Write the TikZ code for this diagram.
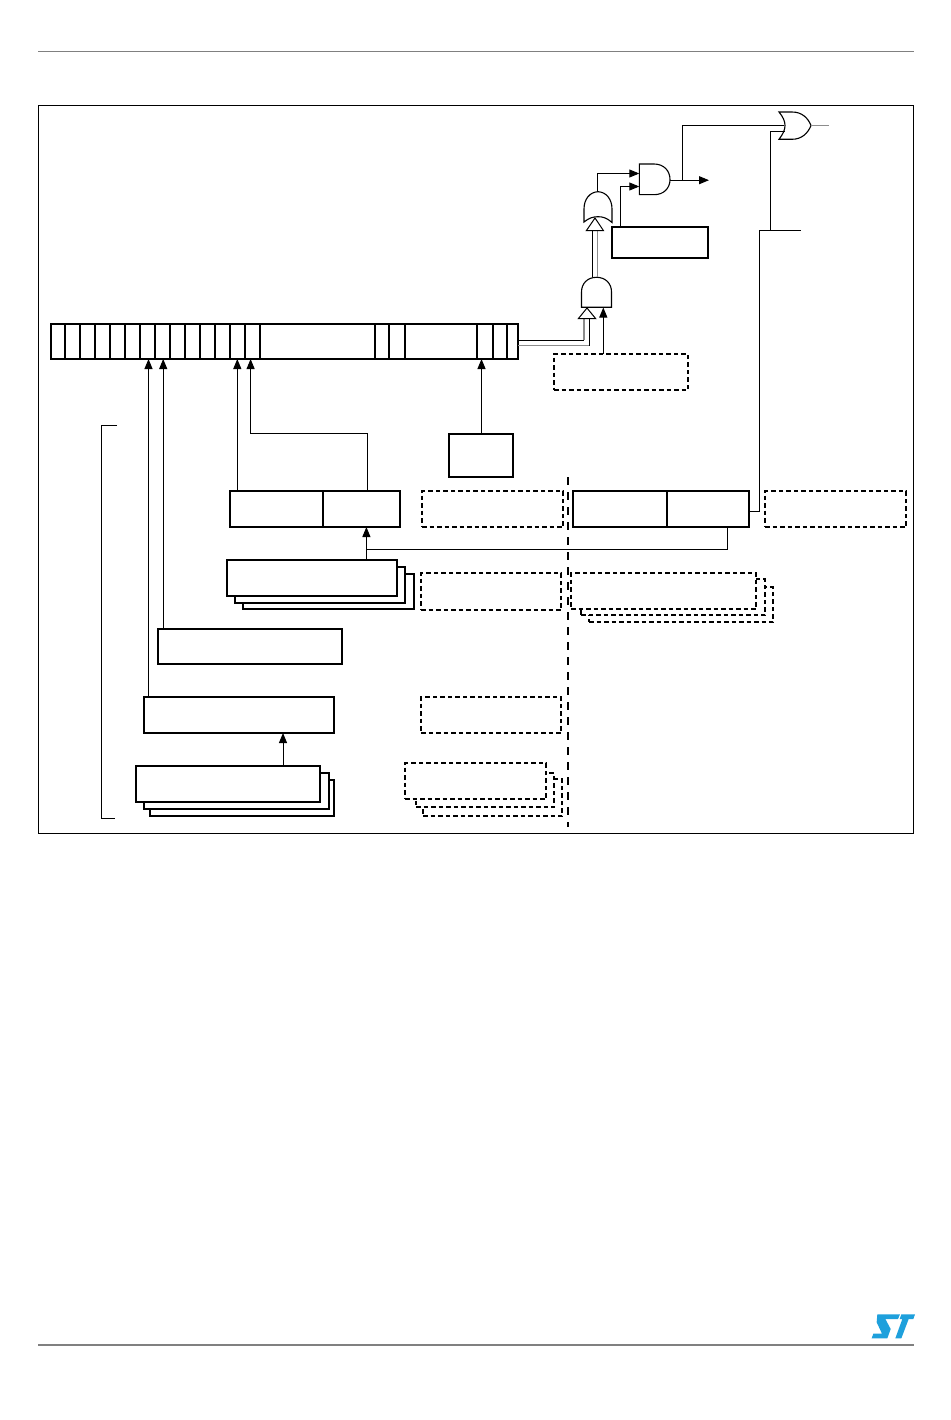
\documentclass[tikz,border=0pt]{standalone}
\usetikzlibrary{arrows.meta}
\definecolor{rulegray}{gray}{0.5}
\definecolor{stblue}{RGB}{30,160,220}
\definecolor{wiregray}{gray}{0.55}
\tikzset{
  x=1pt,y=-1pt,
  solidbox/.style={draw=black,line width=1.6pt,fill=white,rectangle,inner sep=0pt,outer sep=0pt},
  dashbox/.style={draw=black,line width=1.5pt,fill=white,rectangle,inner sep=0pt,outer sep=0pt,dash pattern=on 4.5pt off 3pt},
  wire/.style={draw=black,line width=1pt},
  graywire/.style={draw=wiregray,line width=1.2pt},
  arrw/.style={wire,-{Triangle[length=10pt,width=8pt]}},
  gate/.style={draw=black,line width=1.1pt,fill=white},
  hollow/.style={draw=black,line width=1pt,fill=white,line join=miter},
}
\newcommand{\bx}[6]{%
  \pgfmathsetmacro\bxw{#5-#3}\pgfmathsetmacro\bxh{#6-#4}%
  \node[#1,minimum width=\bxw pt,minimum height=\bxh pt] (#2) at ({(#3+#5)/2},{(#4+#6)/2}) {};}
\begin{document}
\begin{tikzpicture}
\useasboundingbox (0,0) rectangle (950,1420);
\fill[white] (0,0) rectangle (950,1420);
% page rules
\draw[rulegray,line width=1pt] (38,52) -- (914,52);
\draw[rulegray,line width=1.3pt] (38,1345) -- (914,1345);
% frame
\bx{draw=black,line width=0.7pt,rectangle,inner sep=0pt,outer sep=0pt}{frame}{38.5}{105.5}{913.5}{833.5}
% register
\bx{solidbox}{reg}{51}{324}{518}{359}
\foreach \cx in {65,80,95,110,125,140,155,170,185,200,215,230,245,260,375,389,405,477,493,507}{
  \coordinate (cell) at (\cx,0);
  \draw[line width=1.6pt] (reg.north -| cell) -- (reg.south -| cell);
}
% centre dashed line
\coordinate (midtop) at (568,477);
\coordinate (midbot) at (568,827);
\draw[line width=2pt,dash pattern=on 8pt off 7pt] (midtop) -- (midbot);
% row 1
\bx{solidbox}{ctrl}{449}{434}{513}{477}
\bx{solidbox}{la}{230}{491}{323}{527}
\bx{solidbox}{lb}{323}{491}{400}{527}
\draw[line width=1.6pt] (lb.north west) -- (lb.south west);
\bx{dashbox}{da}{422}{491}{563}{527}
\bx{solidbox}{ra}{573}{491}{667}{527}
\bx{solidbox}{rb}{667}{491}{749}{527}
\draw[line width=1.6pt] (rb.north west) -- (rb.south west);
\bx{dashbox}{db}{765}{491}{906}{527}
% stack 1
\bx{solidbox}{s1c}{243}{574}{414}{609}
\bx{solidbox}{s1b}{235}{567}{405}{603}
\bx{solidbox}{s1a}{227}{560}{397}{596}
% dashed stack right
\bx{dashbox}{ds2c}{589}{587}{773}{622}
\bx{dashbox}{ds2b}{581}{579}{765}{615}
\bx{dashbox}{ds2a}{571}{573}{756}{609}
\bx{dashbox}{dc}{421}{573}{561}{610}
% single boxes
\bx{solidbox}{m1}{158}{629}{342}{664}
\bx{solidbox}{m2}{144}{697}{334}{733}
\bx{dashbox}{dd}{421}{697}{561}{733}
% stack 2
\bx{solidbox}{s2c}{150}{780}{334}{816}
\bx{solidbox}{s2b}{144}{773}{329}{809}
\bx{solidbox}{s2a}{136}{766}{320}{802}
% dashed stack left
\bx{dashbox}{ds1c}{423}{779}{562}{816}
\bx{dashbox}{ds1b}{416}{773}{554}{807}
\bx{dashbox}{ds1a}{405}{763}{546}{799}
% upper boxes
\bx{solidbox}{en}{612}{227}{708}{258}
\bx{dashbox}{de}{554}{354}{688}{390}
% bracket
\coordinate (bt) at (117,425.5);
\coordinate (bb) at (115,818);
\coordinate (bx) at (101,0);
\draw[wire] (bt) -- (bt -| bx) -- (bb -| bx) -- (bb);
% vertical connectors into the register
\coordinate (xa) at (148.5,0);
\coordinate (xb) at (163.2,0);
\coordinate (xc) at (237.3,0);
\coordinate (xd) at (250.6,0);
\coordinate (xe) at (367.5,0);
\coordinate (xr) at (366.4,0);
\coordinate (xf) at (481.5,0);
\coordinate (xg) at (283,0);
\coordinate (xh) at (727,0);
\coordinate (yh) at (0,433.5);
\coordinate (yi) at (0,549);
\draw[arrw] (m2.north -| xa) -- (reg.south -| xa);
\draw[arrw] (m1.north -| xb) -- (reg.south -| xb);
\draw[arrw] (la.north -| xc) -- (reg.south -| xc);
\draw[arrw] (lb.north -| xe) -- (yh -| xe) -- (yh -| xd) -- (reg.south -| xd);
\draw[arrw] (ctrl.north -| xf) -- (reg.south -| xf);
\draw[arrw] (s2a.north -| xg) -- (m2.south -| xg);
\draw[wire] (s1a.north -| xr) -- (yi -| xr);
\draw[arrw] (rb.south -| xh) -- (yi -| xh) -- (yi -| xr) -- (lb.south -| xr);
% gates
\draw[gate] (581.5,307.3) -- (581.5,292) .. controls (581.5,283) and (588,277.3) .. (596.5,277.3)
  .. controls (605,277.3) and (611.5,283) .. (611.5,292) -- (611.5,307.3) -- cycle;
\draw[gate] (584,222) -- (584,209) .. controls (584,199) and (590,192) .. (598,191.7)
  .. controls (606,192) and (612,199) .. (612,209) -- (612,222.5)
  .. controls (607,218) and (603,216.7) .. (598,216.7) .. controls (593,216.7) and (589,218) .. (584,222) -- cycle;
\draw[gate] (639.3,164) -- (654,164) .. controls (664,164) and (670,171) .. (670,179.5)
  .. controls (670,188) and (664,194.7) .. (654,194.7) -- (639.3,194.7) -- cycle;
\draw[gate] (779,112) -- (792,112) .. controls (802,112) and (808,118) .. (811,125.5)
  .. controls (808,133) and (802,139.3) .. (792,139.3) -- (779,139.3)
  .. controls (783,134) and (785,130) .. (785,125.5) .. controls (785,121) and (783,117) .. (779,112) -- cycle;
% gate pins
\coordinate (andA1) at (639.3,173.5);
\coordinate (andA2) at (639.3,186.5);
\coordinate (andAo) at (670,180.2);
\coordinate (orAo) at (597.3,191.7);
\coordinate (enp) at (620,227);
\coordinate (outA) at (709,180.2);
\coordinate (orB1) at (783.5,125.3);
\coordinate (orB2) at (785,131.3);
\coordinate (orBo) at (811,125.5);
\coordinate (outB) at (829,125.5);
\coordinate (xj) at (682.4,0);
\coordinate (xk) at (770.5,0);
\coordinate (xl) at (759.5,0);
\coordinate (rbo) at (749,511);
\coordinate (yl) at (0,230.5);
\coordinate (tl) at (801,230.5);
\coordinate (andBb) at (603.3,307.5);
% gate connectors
\draw[arrw] (orAo) -- (orAo |- andA1) -- (andA1);
\draw[arrw] (enp) -- (enp |- andA2) -- (andA2);
\draw[arrw] (andAo) -- (outA);
\draw[wire] (andAo -| xj) -- (orB1 -| xj) -- (orB1);
\draw[wire] (orB2) -- (orB2 -| xk) -- (yl -| xk);
\draw[wire] (rbo) -- (rbo -| xl) -- (yl -| xl) -- (tl);
\draw[graywire] (orBo) -- (outB);
\draw[arrw] (de.north -| andBb) -- (andBb);
% bus into lower gate
\coordinate (buA) at (518,340);
\coordinate (buB) at (518,345.6);
\coordinate (xm) at (584,0);
\coordinate (xn) at (589.8,0);
\coordinate (ym) at (0,318.7);
\draw[graywire] (buB) -- (buB -| xn);
\draw[wire] (buB -| xn) -- (ym -| xn);
\draw[wire] (buA) -- (buA -| xm);
\draw[graywire] (buA -| xm) -- (ym -| xm);
\draw[hollow] (587,308) -- (595.7,318.7) -- (578.3,318.7) -- cycle;
% bus between gates
\coordinate (xp) at (592.5,0);
\coordinate (xq) at (597.4,0);
\coordinate (yp) at (0,230.7);
\coordinate (yq) at (0,277.3);
\draw[wire] (yq -| xp) -- (yp -| xp);
\draw[graywire] (yq -| xq) -- (yp -| xq);
\draw[hollow] (595,218) -- (603.5,230.7) -- (586.3,230.7) -- cycle;
% logo
\begin{scope}[shift={(860,1305)},x=0.3333pt,y=-0.3333pt]
\fill[stblue] (52,28) -- (120,28) -- (114,42) -- (76,42) -- (92,72) -- (82,100) -- (35,100) -- (40,86) -- (66,86) -- (50,52) -- cycle;
\fill[stblue] (124,28) -- (165,28) -- (160,42) -- (146,42) -- (124,100) -- (106,100) -- (127,42) -- (119,42) -- cycle;
\end{scope}
\end{tikzpicture}
\end{document}
